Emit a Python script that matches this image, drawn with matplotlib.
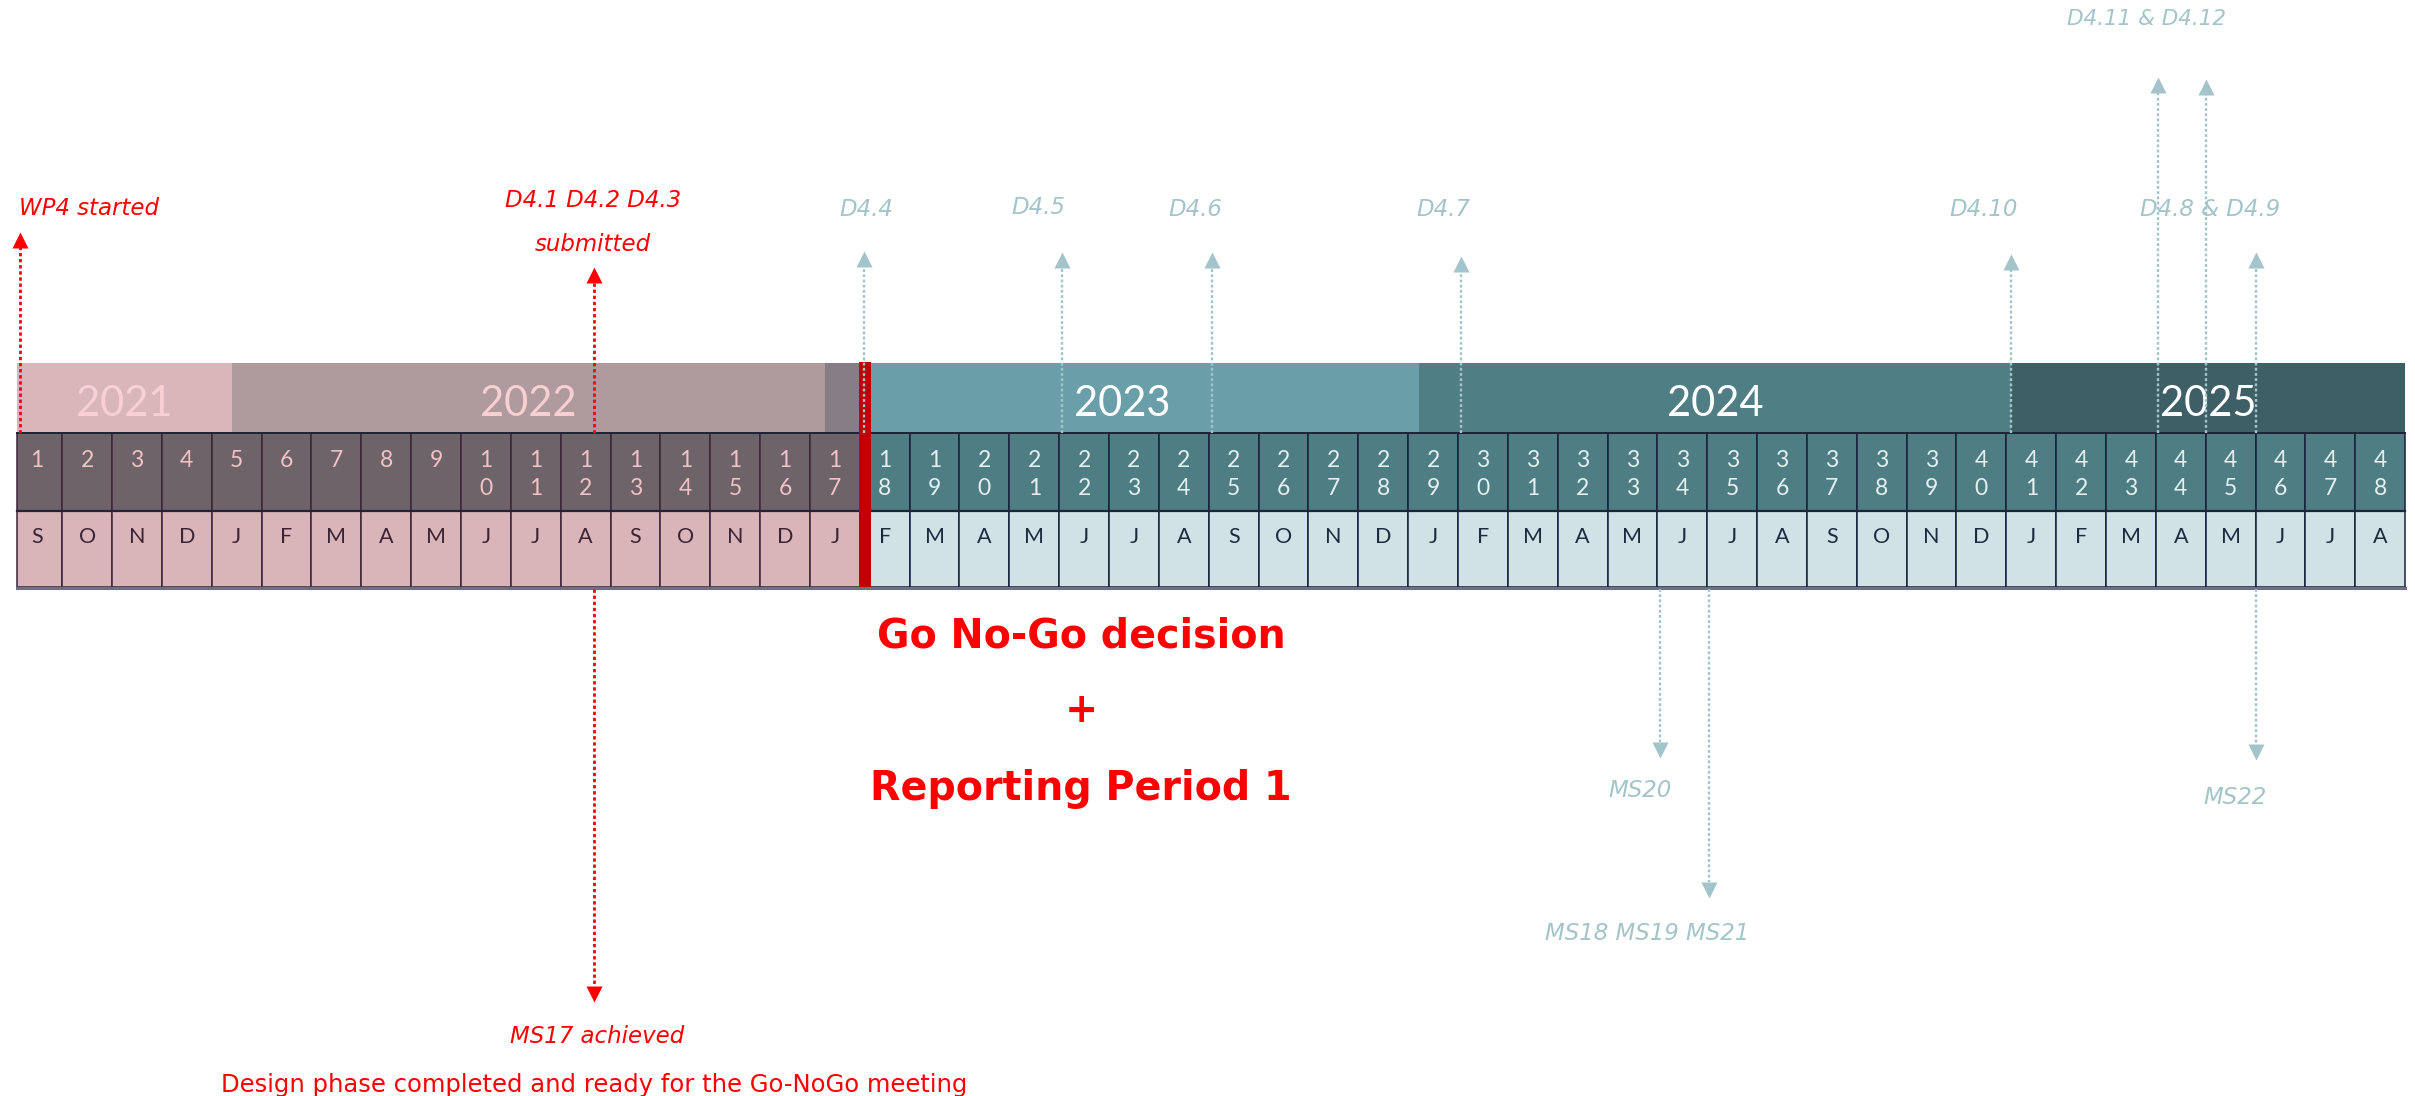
import numpy as np
import matplotlib.pyplot as plt
from matplotlib.patches import Rectangle

plt.rcParams['font.family'] = 'DejaVu Sans'

# project months Sep 2021 .. Aug 2025
month_letters = list("SONDJFMAMJJASONDJ" "FMAMJJASOND" "JFMAMJJASOND" "JFMAMJJA")
month_numbers = list(range(1, len(month_letters) + 1))
go_nogo = 17  # go / no-go after month 17

years = ['2021', '2022', '2023', '2024', '2025']
year_edges = [0.1, 4.41, 16.3, 28.22, 40.1, 48.0]

# deliverables (arrows up) and milestones (arrows down), x in project months
up_names = ['WP4 started', 'D4.1 D4.2 D4.3\nsubmitted', 'D4.4', 'D4.5', 'D4.6',
            'D4.7', 'D4.10', 'D4.8 & D4.9', 'D4.11 & D4.12']
up_months = [[0.15], [11.66], [17.08], [21.06], [24.07], [29.06], [40.09], [45.0],
             [43.04, 44.0]]
down_names = ['MS17 achieved', 'MS20', 'MS18 MS19 MS21', 'MS22']
down_months = [11.66, 33.05, 34.03, 45.0]
note = 'Design phase completed and ready for the Go-NoGo meeting'

# layout (pixel rows, y grows downwards)
up_tip = [[232], [267], [251], [252], [252], [256], [254], [252], [77, 79]]
up_lab_x = [1.53, 11.65, 17.14, 20.58, 23.73, 28.7, 39.55, 44.09, 42.82]
up_lab_y = [215, 207, 216, 214, 216, 216, 216, 216, 25]
down_tip = [1001, 757, 897, 759]
down_lab_x = [11.73, 32.65, 32.79, 44.59]
down_lab_y = [1043, 797, 940, 804]

RED = '#FF0000'
TEAL = '#A3C4CA'
year_colors = ['#D9B6BA', '#AF9A9E', '#6A9FA9', '#4F7E85', '#3E5F66']
year_text = ['#F8D0D3', '#F8D0D3', 'white', 'white', 'white']
thin = ['Lato', 'DejaVu Sans']

fig = plt.figure(figsize=(24.15, 10.96), dpi=100)
ax = fig.add_axes([0, 0, 1, 1])
ax.set_xlim(-0.2467, 48.198)
ax.set_ylim(1096, 0)
ax.axis('off')

Y_TOP, Y_NUM, Y_MON, Y_BOT = 363, 433, 511, 587

# year band
for i, y in enumerate(years):
    x0, x1 = year_edges[i], year_edges[i + 1]
    ax.add_patch(Rectangle((x0, Y_TOP), x1 - x0, Y_NUM - Y_TOP, color=year_colors[i], lw=0, zorder=1))
    ax.text((x0 + x1) / 2, 416, y, color=year_text[i], fontsize=30, family=thin,
            ha='center', va='baseline', zorder=2)
ax.add_patch(Rectangle((year_edges[2], Y_TOP), go_nogo - year_edges[2], Y_NUM - Y_TOP,
                       color='#877D84', lw=0, zorder=1))

# month grid
for i, (n, m) in enumerate(zip(month_numbers, month_letters)):
    pink = i < go_nogo
    x0 = 0.1 if i == 0 else i
    w = i + 1 - x0
    edge = '#3D2438' if pink else '#15213A'
    ax.add_patch(Rectangle((x0, Y_NUM), w, Y_MON - Y_NUM, fc='#6E6369' if pink else '#4E7D84',
                           ec=edge, lw=1.1, zorder=3))
    ax.add_patch(Rectangle((x0, Y_MON), w, Y_BOT - Y_MON, fc='#D9B5B9' if pink else '#D0E2E5',
                           ec=edge, lw=1.1, zorder=3))
    cx = i + 0.5
    for k, d in enumerate(str(n)):
        ax.text(cx, 467 + 28 * k, d, color='#F2C2C6' if pink else '#E6EFF0', fontsize=16.5,
                family=thin, ha='center', va='baseline', zorder=4)
    ax.text(cx, 543, m, color='#3A2436' if pink else '#1E2A40', fontsize=15.5,
            family=thin, ha='center', va='baseline', zorder=4)

ax.plot([0.1, 48], [Y_NUM, Y_NUM], color='#1E2536', lw=1.4, zorder=4)
ax.plot([0.1, 48], [Y_MON, Y_MON], color='#1E2536', lw=1.6, zorder=4)
ax.plot([0.1, 48], [Y_BOT + 1, Y_BOT + 1], color='#6D6F84', lw=2.2, zorder=4)

# go / no-go bar
ax.add_patch(Rectangle((16.985, Y_TOP - 1), 0.235, Y_BOT - Y_TOP + 1, color='#C00000', lw=0, zorder=5))


def arrow(x, y0, tip, color, lw):
    up = tip < y0
    head = 15
    end = tip + head if up else tip - head
    ax.plot([x, x], [y0, end], color=color, lw=lw, ls=(0, (1.2, 1.0)), zorder=6)
    ax.plot(x, tip + head / 2 if up else tip - head / 2, marker='^' if up else 'v',
            ms=11, color=color, mec='none', zorder=6)


for i, name in enumerate(up_names):
    col = RED if i < 2 else TEAL
    for x, t in zip(up_months[i], up_tip[i]):
        arrow(x, Y_NUM, t, col, 2.0 if col == RED else 1.7)
    size = 15.5 if name.startswith('D4.11') else 16.5
    for k, line in enumerate(name.split('\n')):
        ax.text(up_lab_x[i], up_lab_y[i] + 44 * k, line, color=col, fontsize=size,
                style='italic', ha='center', va='baseline', zorder=6)

for i, name in enumerate(down_names):
    col = RED if i == 0 else TEAL
    arrow(down_months[i], Y_BOT + 2, down_tip[i], col, 2.0 if col == RED else 1.7)
    ax.text(down_lab_x[i], down_lab_y[i], name, color=col, fontsize=16.5,
            style='italic', ha='center', va='baseline', zorder=6)
ax.text(11.68, 1092, note, color=RED, fontsize=17.5, ha='center', va='baseline')

# go / no-go decision
ax.text(21.44, 647, 'Go No-Go decision', color=RED, fontsize=28.5, weight='bold',
        ha='center', va='baseline')
ax.text(21.44, 722, '+', color=RED, fontsize=28.5, weight='bold', ha='center', va='baseline')
ax.text(21.44, 800, 'Reporting Period 1', color=RED, fontsize=28.5, weight='bold',
        ha='center', va='baseline')

plt.savefig('out.png', dpi=100, facecolor='white')
